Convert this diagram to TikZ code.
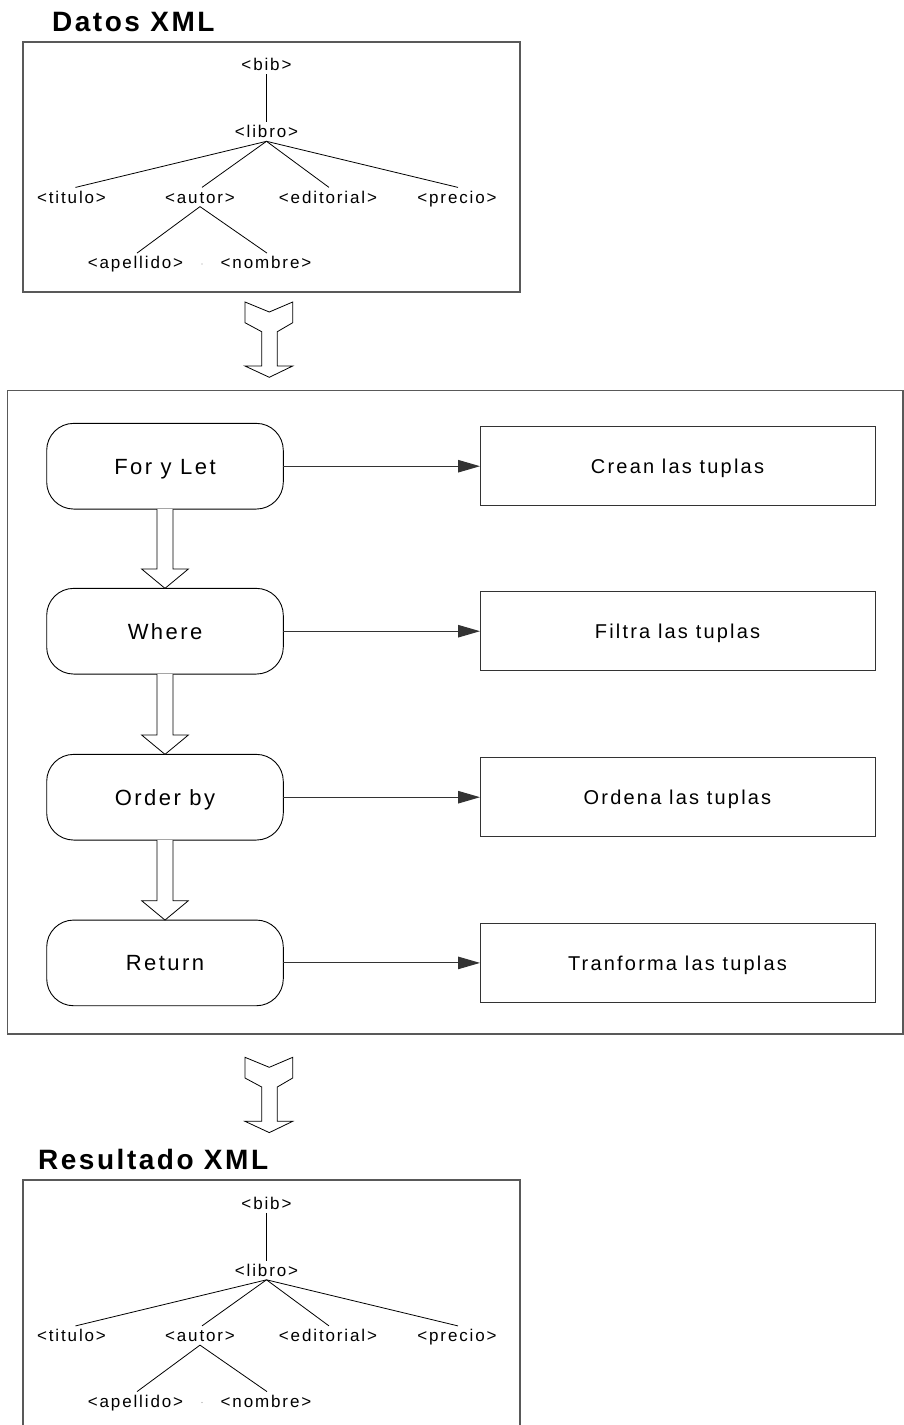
\documentclass[tikz,border=0pt]{standalone}
\usepackage{fontspec}
\setmainfont{Liberation Sans}
\newfontfamily\treef[LetterSpace=11]{Liberation Sans}
\newfontfamily\titlef[LetterSpace=9]{Liberation Sans}
\newfontfamily\boxf[LetterSpace=11]{Liberation Sans}
\usetikzlibrary{arrows.meta}
\tikzset{
  frame/.style={draw=black!65, line width=1.2pt},
  tn/.style={inner xsep=0pt, inner ysep=3.4pt, text height=12pt, text depth=0pt, anchor=base,
    font=\treef\fontsize{17pt}{20pt}\selectfont},
  tl/.style={draw=black, line width=0.8pt},
  ttl/.style={inner sep=0pt, anchor=base west, font=\titlef\bfseries\fontsize{28pt}{32pt}\selectfont},
  stagebox/.style={draw=black, line width=0.9pt, rounded corners=27pt, minimum width=236.6pt,
    minimum height=85.7pt, outer sep=0pt, inner sep=0pt, text height=15.8pt, text depth=0pt,
    font=\boxf\fontsize{22pt}{26pt}\selectfont},
  descbox/.style={draw=black!80, line width=1pt, minimum width=395pt, minimum height=79pt,
    outer sep=0pt, inner sep=0pt, text height=14.3pt, text depth=0pt,
    font=\boxf\fontsize{20pt}{24pt}\selectfont},
  blockarr/.style={draw=black, line width=0.8pt, fill=white, line join=miter},
  conn/.style={draw=black!80, line width=1pt, -{Triangle[length=22pt,width=12.5pt]}}
}
\newcommand\xmltree[1]{%
  \node[tn] (#1bib) at (266.5,70.7) {<bib>};
  \node[tn] (#1libro) at (266.5,137.7) {<libro>};
  \node[tn] (#1titulo) at (71.5,203) {<titulo>};
  \node[tn] (#1autor) at (200,203) {<autor>};
  \node[tn] (#1editorial) at (328,203) {<editorial>};
  \node[tn] (#1precio) at (457,203) {<precio>};
  \node[tn] (#1apellido) at (135.5,268.7) {<apellido>};
  \node[tn] (#1nombre) at (266,268.7) {<nombre>};
  \draw[tl] (#1bib.south) -- (#1libro.north);
  \draw[tl] (#1libro.south) -- ([xshift=4pt]#1titulo.north);
  \draw[tl] (#1libro.south) -- ([xshift=2pt]#1autor.north);
  \draw[tl] (#1libro.south) -- ([xshift=1pt]#1editorial.north);
  \draw[tl] (#1libro.south) -- ([xshift=1pt]#1precio.north);
  \draw[tl] (#1autor.south) -- ([xshift=1.5pt]#1apellido.north);
  \draw[tl] (#1autor.south) -- ([xshift=1pt]#1nombre.north);
  \fill[black!40] (202,264) circle (0.7);
}
\newcommand\yarrow[1]{%
  \draw[blockarr] (#1) ++(-24.3,0) -- ++(0,20.7) -- ++(16.7,9) -- ++(0,34.3) -- ++(-16.7,0)
    -- ++(24.3,11.3) -- ++(23.4,-11.3) -- ++(-15.4,0) -- ++(0,-34.3) -- ++(15.4,-9)
    -- ++(0,-20.7) -- ++(-23.4,10) -- cycle;
}
\newcommand\stagearrow[2]{%
  \draw[blockarr] ([xshift=-8pt]#1.south) -- ([xshift=-8pt,yshift=19.3pt]#2.north)
    -- ([xshift=-23.3pt,yshift=19.3pt]#2.north) -- (#2.north)
    -- ([xshift=23.3pt,yshift=19.3pt]#2.north) -- ([xshift=8pt,yshift=19.3pt]#2.north)
    -- ([xshift=8pt]#1.south);
}
\begin{document}
\begin{tikzpicture}[x=1pt,y=-1pt]
\useasboundingbox (0,0) rectangle (904,1425);
\fill[white] (0,0) rectangle (904,1425);

% top section
\node[ttl] (tdatos) at (52,31.7) {Datos XML};
\draw[frame] (23,42) rectangle (520,292);
\xmltree{a}

\coordinate (ya) at (269.3,302);
\yarrow{ya}

% process frame
\draw[frame] (7.3,390.7) rectangle (903,1034);

\node[stagebox] (forlet) at (165,466.2) {For y Let};
\node[stagebox] (where) at (165,631.2) {Where};
\node[stagebox] (order) at (165,797.2) {Order by};
\node[stagebox] (ret) at (165,962.9) {Return};

\node[descbox] (crean) at (677.5,466.2) {Crean las tuplas};
\node[descbox] (filtra) at (677.5,631.2) {Filtra las tuplas};
\node[descbox] (ordena) at (677.5,797.2) {Ordena las tuplas};
\node[descbox] (transf) at (677.5,962.9) {Tranforma las tuplas};

\draw[conn] (forlet.east) -- (crean.west);
\draw[conn] (where.east) -- (filtra.west);
\draw[conn] (order.east) -- (ordena.west);
\draw[conn] (ret.east) -- (transf.west);

\stagearrow{forlet}{where}
\stagearrow{where}{order}
\stagearrow{order}{ret}

\coordinate (yb) at (269.3,1057.3);
\yarrow{yb}

% bottom section
\node[ttl] (tres) at (38,1169.3) {Resultado XML};
\draw[frame] (23,1426) -- (23,1180) -- (520,1180) -- (520,1426);
\begin{scope}[shift={(0,1138.5)}]
\xmltree{b}
\end{scope}
\end{tikzpicture}
\end{document}
